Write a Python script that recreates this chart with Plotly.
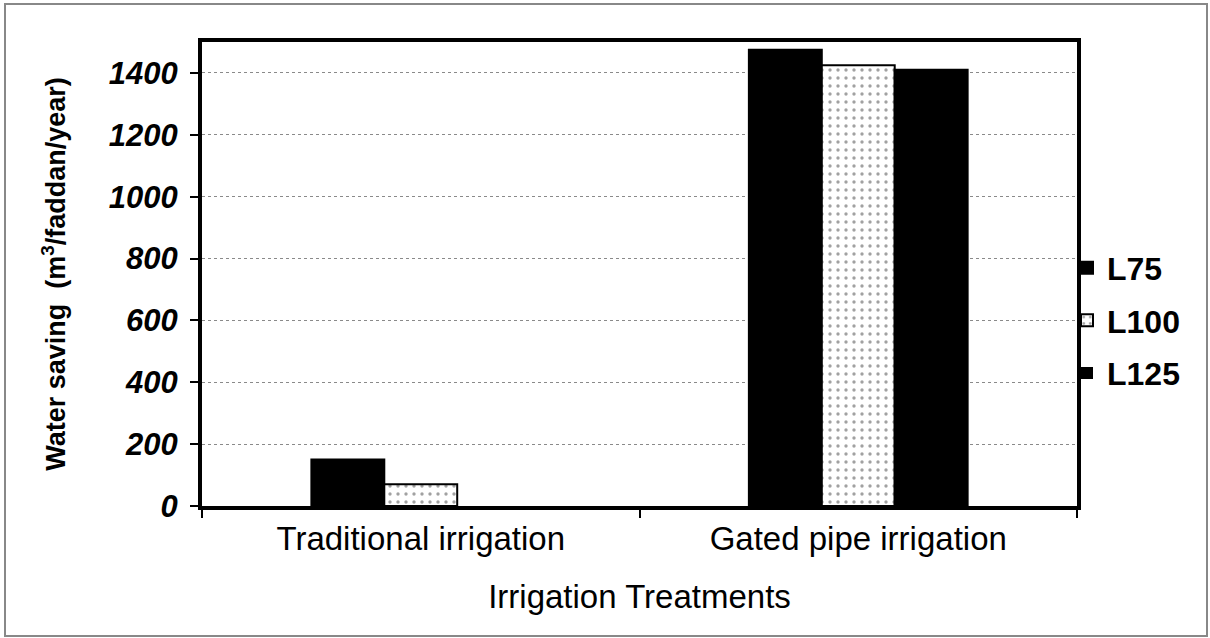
import plotly.graph_objects as go

categories = ["Traditional irrigation", "Gated pipe irrigation"]
series_names = ["L75", "L100", "L125"]
l75 = [150, 1475]
l100 = [70, 1425]
l125 = [0, 1410]
y_ticks = [0, 200, 400, 600, 800, 1000, 1200, 1400]

W, H = 1210, 638
L, R, T, B = 202, 133, 42, 132
pw, ph = W - L - R, H - T - B

fig = go.Figure()
fig.add_trace(go.Bar(name="L75", x=categories, y=l75, legendgroup="a",
                     marker=dict(color="black", line=dict(color="black", width=2))))
fig.add_trace(go.Bar(name="L100", x=categories, y=l100, legendgroup="b",
                     marker=dict(color="white", line=dict(color="black", width=2),
                                 pattern=dict(shape=".", fgcolor="#444444", bgcolor="white",
                                              size=8, solidity=0.14))))
fig.add_trace(go.Bar(name="L125", x=categories, y=l125, legendgroup="c",
                     marker=dict(color="black",
                                 line=dict(color="black", width=[2 if v > 0 else 0 for v in l125]))))

font_fam = "Liberation Sans, Arial, sans-serif"
fig.update_layout(
    width=W, height=H,
    margin=dict(l=L, r=R, t=T, b=B),
    paper_bgcolor="white", plot_bgcolor="white",
    barmode="group", bargap=0.5, bargroupgap=0,
    font=dict(family=font_fam, color="black"),
    showlegend=True,
    legend=dict(x=(1067 - L) / pw, xanchor="left", y=0.40, yanchor="middle",
                font=dict(size=32, family=font_fam, color="black", weight="bold"),
                traceorder="grouped", tracegroupgap=8,
                itemwidth=30, bgcolor="rgba(0,0,0,0)"),
    xaxis=dict(
        automargin=False,
        showline=True, linecolor="black", linewidth=4, mirror=True,
        ticks="outside", tickson="boundaries", ticklen=8, tickwidth=2, tickcolor="black",
        tickfont=dict(size=33, family=font_fam, color="black"),
        title=dict(text="Irrigation Treatments", font=dict(size=33, family=font_fam, color="black"),
                   standoff=30),
    ),
    yaxis=dict(
        automargin=False,
        range=[0, 1500], tickvals=y_ticks,
        ticktext=[f"<b><i>{v}</i></b>" for v in y_ticks],
        showline=True, linecolor="black", linewidth=4, mirror=True,
        ticks="outside", ticklen=8, tickwidth=2, tickcolor="black",
        ticklabelstandoff=6,
        tickfont=dict(size=31, family=font_fam, color="black"),
        showgrid=True, gridcolor="#8a8a8a", gridwidth=1, griddash="dot",
        zeroline=False,
        title=dict(text="<b>Water saving  (m<sup>3</sup>/faddan/year)</b>",
                   font=dict(size=27, family=font_fam, color="black"), standoff=36),
    ),
)

# outer thin frame around the whole picture
fig.add_shape(type="rect", xref="paper", yref="paper",
              x0=(5 - L) / pw, x1=(1207 - L) / pw,
              y0=(H - B - 636) / ph, y1=(H - B - 4) / ph,
              line=dict(color="#888888", width=2), layer="below")

fig.write_html("out.html", config={"displayModeBar": False},
               post_script="document.body.style.margin='0';")
